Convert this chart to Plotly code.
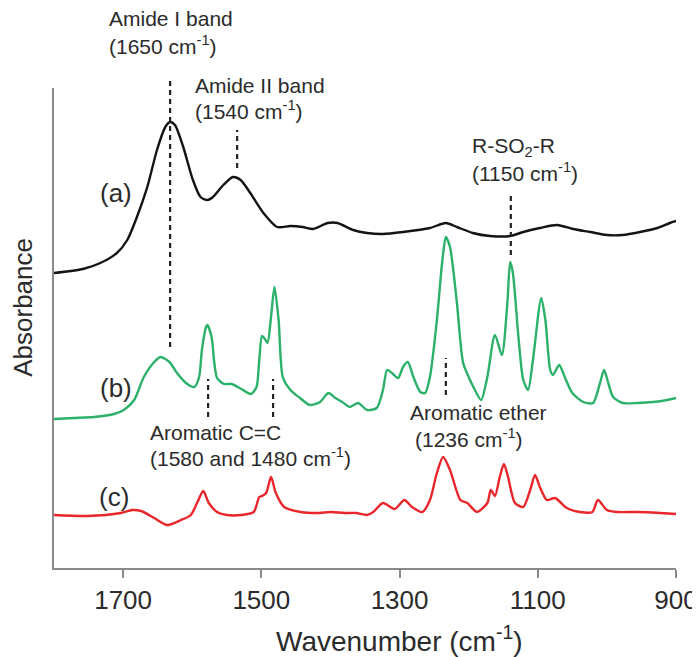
import plotly.graph_objects as go

# ---- data (wavenumber in cm-1, absorbance in arbitrary offset units) ----
wn_a = [1800,1758,1733,1709,1694,1680,1665,1651,1639,1632,1625,1613,1599,1588,1578,1570,1555,1541,1530,1516,
        1497,1477,1458,1440,1425,1404,1390,1367,1347,1324,1295,1256,1233,1217,1194,1169,1140,1121,1097,1072,
        1049,1024,1000,977,952,927,909,900]
abs_a = [295,299,305,315,328,351,381,418,441,446,443,421,388,371,368,371,383,391,388,375,
         355,341,342,341,339,345,345,338,335,334,336,340,345,341,335,332,332,336,340,343,
         339,336,333,333,336,340,345,347]

wn_b = [1800,1771,1742,1713,1699,1684,1670,1655,1646,1633,1622,1609,1597,1590,1586,1580,1578,1572,1568,1564,
        1554,1543,1529,1515,1507,1503,1499,1494,1491,1486,1481,1475,1469,1458,1444,1430,1415,1403,1393,1383,
        1372,1360,1347,1333,1324,1318,1311,1302,1295,1288,1280,1270,1263,1256,1246,1238,1233,1227,1217,1208,
        1198,1191,1182,1173,1162,1152,1144,1140,1136,1128,1121,1114,1107,1095,1089,1082,1078,1069,1061,1050,
        1034,1020,1010,1004,998,991,977,956,933,913,900]
abs_b = [149,150,151,154,158,168,191,206,211,206,195,185,181,191,218,241,243,231,205,190,
         184,184,179,174,181,208,232,228,225,251,281,248,191,178,170,163,166,175,170,166,
         161,165,158,160,178,198,195,190,201,206,191,176,175,191,248,308,331,321,265,205,
         188,178,168,191,233,213,265,306,295,231,188,178,208,270,248,198,193,203,191,175,
         166,165,185,198,185,171,165,165,166,168,170]

wn_c = [1800,1752,1703,1687,1674,1655,1636,1616,1602,1593,1584,1576,1564,1550,1529,1511,1503,1499,1493,1486,
        1479,1467,1443,1419,1399,1380,1363,1347,1338,1324,1307,1293,1282,1267,1256,1246,1237,1227,1212,1202,
        1188,1173,1168,1162,1155,1149,1143,1133,1121,1111,1104,1097,1087,1075,1058,1039,1021,1013,1000,985,
        956,923,900]
abs_c = [53,52,55,58,57,50,43,48,53,65,77,65,56,53,53,56,71,72,75,91,
         75,61,56,55,56,55,55,53,56,65,59,68,61,56,68,95,111,98,68,65,
         56,65,78,72,91,104,91,65,61,78,93,81,68,70,60,56,56,68,58,56,
         56,55,54]

tick_vals = [1700, 1500, 1300, 1100, 900]
series_labels = ["(a)", "(b)", "(c)"]

# band markers: wavenumber, top and bottom of dashed line (absorbance units)
marker_wn = [1632, 1535, 1139, 1577, 1483, 1233]
marker_top = [490, 438, 375, 189, 189, 210]
marker_bot = [221, 400, 313, 151, 151, 173]

Y_MAX = 480.0
FONT = "Liberation Sans, Arial, sans-serif"
TXT = "#2b2b2b"
AXC = "#8a8a8a"

fig = go.Figure()
for wn, ab, col in [(wn_a, abs_a, "#141414"), (wn_b, abs_b, "#2bb16a"), (wn_c, abs_c, "#e8262b")]:
    fig.add_trace(go.Scatter(x=wn, y=ab, mode="lines",
                             line=dict(color=col, width=2.4, shape="spline", smoothing=0.7),
                             showlegend=False, hoverinfo="skip"))

for w, t, b in zip(marker_wn, marker_top, marker_bot):
    fig.add_shape(type="line", xref="x", yref="paper", x0=w, x1=w, y0=b / Y_MAX, y1=t / Y_MAX,
                  line=dict(color="#222222", width=2.2, dash="5px,4px"))

# text annotations: (text, x wavenumber of left edge, paper y centre)
texts = [
    ("Amide I band", 1723, 1.145),
    ("(1650 cm<sup>-1</sup>)", 1723, 1.090),
    ("Amide II band", 1599, 1.006),
    ("(1540 cm<sup>-1</sup>)", 1599, 0.954),
    ("R-SO<sub>2</sub>-R", 1198, 0.877),
    ("(1150 cm<sup>-1</sup>)", 1198, 0.825),
    ("Aromatic C=C", 1664, 0.283),
    ("(1580 and 1480 cm<sup>-1</sup>)", 1664, 0.231),
    ("Aromatic ether", 1288, 0.323),
    ("(1236 cm<sup>-1</sup>)", 1280, 0.271),
]
for t, x, y in texts:
    fig.add_annotation(text=t, x=x, y=y, xref="x", yref="paper", xanchor="left", yanchor="middle",
                       showarrow=False, font=dict(family=FONT, size=21, color=TXT))

for lab, x, y in zip(series_labels, [1710, 1710, 1713], [0.781, 0.375, 0.148]):
    fig.add_annotation(text=lab, x=x, y=y, xref="x", yref="paper", xanchor="center", yanchor="middle",
                       showarrow=False, font=dict(family=FONT, size=26, color=TXT))

# axis titles (placed off-centre as in the original)
fig.add_annotation(text="Wavenumber (cm<sup>-1</sup>)", x=0.556, y=-0.148, xref="paper", yref="paper",
                   xanchor="center", yanchor="middle", showarrow=False,
                   font=dict(family=FONT, size=28, color=TXT))
fig.add_annotation(text="Absorbance", x=-0.050, y=0.544, xref="paper", yref="paper", textangle=-90,
                   xanchor="center", yanchor="middle", showarrow=False,
                   font=dict(family=FONT, size=26, color=TXT))

# the page body adds an 8px offset, so the figure is 8px smaller than the window
fig.update_layout(
    width=692, height=649,
    margin=dict(l=46, r=24, t=80, b=89, autoexpand=False),
    paper_bgcolor="white", plot_bgcolor="white",
    font=dict(family=FONT, color=TXT),
    xaxis=dict(range=[1800, 900], tickvals=tick_vals, ticks="outside", ticklen=8, tickwidth=1.5,
               tickcolor=AXC, showline=True, linecolor=AXC, linewidth=2, showgrid=False, zeroline=False,
               automargin=False, tickfont=dict(size=26, color=TXT)),
    yaxis=dict(range=[0, Y_MAX], showticklabels=False, ticks="", showline=True, linecolor=AXC,
               linewidth=2, showgrid=False, zeroline=False, automargin=False),
)

fig.write_html("out.html")
